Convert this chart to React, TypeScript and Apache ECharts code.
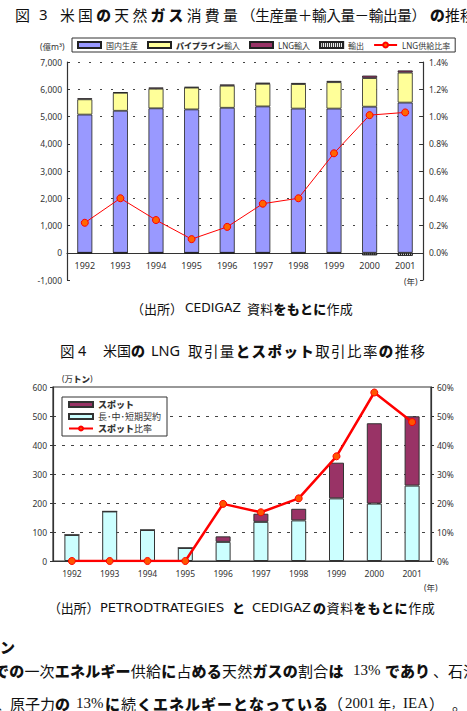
import React, { useEffect, useRef } from 'react';
import * as echarts from 'echarts';

// ---------- data ----------
const years = ['1992', '1993', '1994', '1995', '1996', '1997', '1998', '1999', '2000', '2001'];
// Fig.3 (億m3)
const domesticProd = [5070, 5210, 5300, 5260, 5320, 5370, 5290, 5290, 5360, 5510];
const pipelineImport = [560, 660, 720, 800, 810, 830, 900, 970, 1050, 1100];
const lngImport = [40, 20, 45, 25, 45, 40, 40, 45, 90, 80];
const exportVol = [-15, -15, -15, -15, -15, -20, -20, -25, -90, -110];
const lngShare = [0.22, 0.40, 0.24, 0.10, 0.19, 0.36, 0.40, 0.73, 1.01, 1.03]; // %
// Fig.4 (万トン)
const contractVol = [90, 171, 107, 45, 66, 135, 140, 216, 198, 260];
const spotVol = [0, 0, 0, 0, 19, 28, 40, 123, 277, 239];
const spotShare = [0, 0, 0, 0, 19.7, 16.8, 21.6, 36.1, 58.1, 47.9]; // %

const CJK = '"Noto Sans CJK JP", sans-serif';
const SANS = '"Noto Sans", "Noto Sans CJK JP", sans-serif';
const DEJA = '"DejaVu Sans", sans-serif';
const SERIF = '"Liberation Serif", serif';
const INK = '#111';
const AX = '#333';

function isKana(ch: string) {
  const c = ch.codePointAt(0) as number;
  return c >= 0x3040 && c <= 0x30ff && c !== 0x30fb;
}

function richStr(s: string) {
  let out = '';
  let buf = '';
  let key = '';
  const flush = () => {
    if (buf) out += `{${key}|${buf}}`;
    buf = '';
  };
  for (const ch of Array.from(s)) {
    const c = ch.codePointAt(0) as number;
    const k = isKana(ch) ? 'k' : c < 0x2000 ? 'l' : 'n';
    if (k !== key) {
      flush();
      key = k;
    }
    buf += ch;
  }
  flush();
  return out;
}

function richStyles(size: number, color = AX) {
  return {
    k: { fontFamily: CJK, fontWeight: 900, fontSize: size, color },
    n: { fontFamily: CJK, fontWeight: 'normal', fontSize: size, color },
    l: { fontFamily: SANS, fontWeight: 'normal', fontSize: size, color },
  };
}

function cjkRow(text: string, x: number, y: number, adv: number, size: number, color = INK) {
  return Array.from(text).map((ch, i) => ({
    type: 'text',
    x: x + i * adv,
    y,
    silent: true,
    style: {
      text: ch,
      fontFamily: CJK,
      fontSize: size,
      fontWeight: isKana(ch) ? 900 : 'normal',
      fill: color,
      verticalAlign: 'middle',
      textAlign: 'left',
    },
  }));
}

function latin(text: string, x: number, y: number, size: number, family: string, color = INK) {
  return {
    type: 'text',
    x,
    y,
    silent: true,
    style: { text, fontFamily: family, fontSize: size, fill: color, verticalAlign: 'middle', textAlign: 'left' },
  };
}

function richText(text: string, x: number, y: number, size: number, align = 'left') {
  return {
    type: 'text',
    x,
    y,
    silent: true,
    style: { text: richStr(text), rich: richStyles(size), fill: AX, verticalAlign: 'middle', textAlign: align },
  };
}

export default function App() {
  const ref = useRef<HTMLDivElement>(null);

  useEffect(() => {
    if (!ref.current) return;
    const chart = echarts.init(ref.current, undefined, { renderer: 'svg' });

    const barBorder = { borderColor: '#222', borderWidth: 0.8 };
    const axisLabel = { fontSize: 9, color: AX, fontFamily: SANS };

    const graphics: any[] = [
      // Titles
      ...cjkRow('図', 15, 14, 15, 15),
      latin('3', 39, 14, 15, SANS),
      ...cjkRow('米国の天然ガス消費量', 60, 14, 18.1, 14.8),
      ...cjkRow('（生産量＋輸入量－輸出量）', 241, 14, 14.2, 14.6),
      ...cjkRow('の推移', 430, 14, 15, 14.8),
      ...cjkRow('図', 60, 350, 15, 14.5),
      latin('4', 78, 350, 14.5, SANS),
      ...cjkRow('米国の', 103, 350, 14, 14),
      latin('LNG', 151, 350, 14.5, SANS),
      ...cjkRow('取引量とスポット取引比率の推移', 188, 350, 15.9, 14.5),
      // Sources
      ...cjkRow('（出所）', 131, 308, 13, 13),
      latin('CEDIGAZ', 185, 308, 12.3, DEJA),
      ...cjkRow('資料をもとに作成', 247, 308, 13.25, 13),
      ...cjkRow('（出所）', 48, 607, 12.8, 13),
      latin('PETRODTRATEGIES', 100, 607, 13, DEJA),
      ...cjkRow('と', 232, 607, 13, 13),
      latin('CEDIGAZ', 252, 607, 13, DEJA),
      ...cjkRow('の資料をもとに作成', 313, 607, 13.6, 13),
      // Axis names
      richText('(億m³)', 40, 46, 8.5),
      richText('(年)', 404, 281, 8.5),
      richText('(万トン)', 62, 378, 8.5),
      richText('(年)', 424, 587, 8.5),
      // Body text
      ...cjkRow('ン', 0, 646, 15, 15),
      ...cjkRow('での一次エネルギー供給に占める天然ガスの割合は', -6, 670, 15.2, 15),
      latin('13%', 353, 670, 15, SERIF),
      ...cjkRow('であり', 385, 670, 15, 15),
      ...cjkRow('、石油', 433, 670, 15, 15),
      ...cjkRow('、', -3, 703, 13, 13),
      ...cjkRow('原子力の', 10, 703, 15, 15),
      latin('13%', 76, 703, 15, SERIF),
      ...cjkRow('に続くエネルギーとなっている', 105, 703, 16, 15),
      ...cjkRow('（', 328, 703, 15, 15),
      latin('2001', 345, 703, 15, SERIF),
      ...cjkRow('年', 378, 703, 13, 13),
      ...cjkRow('，', 391, 703, 11, 11),
      latin('IEA', 403, 703, 15, SERIF),
      ...cjkRow('）', 429, 703, 15, 15),
      ...cjkRow('。', 452, 703, 15, 15),
    ];

    const option: any = {
      animation: false,
      backgroundColor: '#fff',
      textStyle: { fontFamily: CJK },
      grid: [
        { left: 67, top: 62, width: 356, height: 218 },
        { left: 53, top: 387, width: 378, height: 174, show: true, borderColor: AX, borderWidth: 1.2, backgroundColor: 'transparent' },
      ],
      legend: [
        {
          left: 72,
          top: 38,
          orient: 'horizontal',
          data: [
            { name: '国内生産', icon: 'rect' },
            { name: 'パイプライン輸入', icon: 'rect' },
            { name: 'LNG輸入', icon: 'rect' },
            { name: '輸出', icon: 'rect' },
            { name: 'LNG供給比率' },
          ],
          itemWidth: 23,
          itemHeight: 6,
          itemGap: 9,
          padding: [3, 5, 3, 5],
          borderColor: AX,
          borderWidth: 1,
          backgroundColor: '#fff',
          formatter: (n: string) => richStr(n),
          textStyle: { fontSize: 8, color: AX, rich: richStyles(8) },
        },
        {
          left: 62,
          top: 397,
          orient: 'vertical',
          data: [
            { name: 'スポット', icon: 'rect' },
            { name: '長･中･短期契約', icon: 'rect' },
            { name: 'スポット比率' },
          ],
          itemWidth: 24,
          itemHeight: 5,
          itemGap: 3,
          padding: [3, 6, 3, 6],
          borderColor: AX,
          borderWidth: 1,
          backgroundColor: '#fff',
          formatter: (n: string) => richStr(n),
          textStyle: { fontSize: 9, color: AX, rich: richStyles(9) },
        },
      ],
      xAxis: [
        {
          type: 'category',
          gridIndex: 0,
          data: years,
          axisLine: { onZero: true, lineStyle: { color: AX, width: 1.2 } },
          axisTick: { inside: true, length: 3, lineStyle: { color: AX } },
          axisLabel: { ...axisLabel, margin: -19 },
        },
        {
          type: 'category',
          gridIndex: 1,
          data: years,
          axisLine: { lineStyle: { color: AX, width: 1.2 } },
          axisTick: { inside: true, length: 3, lineStyle: { color: AX } },
          axisLabel: { ...axisLabel, fontSize: 8.5, margin: 8 },
        },
      ],
      yAxis: [
        {
          type: 'value',
          gridIndex: 0,
          min: -1000,
          max: 7000,
          interval: 1000,
          axisLine: { show: true, lineStyle: { color: AX, width: 1.2 } },
          axisTick: { show: true, inside: true, length: 3, lineStyle: { color: AX } },
          axisLabel: { ...axisLabel, fontSize: 8.5, margin: 5, formatter: (v: number) => v.toLocaleString('en-US') },
          splitLine: {
            show: true,
            lineStyle: {
              type: [2, 9],
              width: 1,
              color: ['rgba(0,0,0,0)', 'rgba(0,0,0,0)', '#444', '#444', '#444', '#444', '#444', '#444', '#444'],
            },
          },
        },
        {
          type: 'value',
          gridIndex: 0,
          position: 'right',
          min: -0.2,
          max: 1.4,
          interval: 0.2,
          axisLine: { show: true, lineStyle: { color: AX, width: 1.2 } },
          axisTick: { show: true, inside: true, length: 3, lineStyle: { color: AX } },
          axisLabel: {
            ...axisLabel,
            fontSize: 8.5,
            margin: 6,
            formatter: (v: number) => (v < -0.01 ? '' : v.toFixed(1) + '%'),
          },
          splitLine: { show: false },
        },
        {
          type: 'value',
          gridIndex: 1,
          min: 0,
          max: 600,
          interval: 100,
          axisLine: { show: true, lineStyle: { color: AX, width: 1.2 } },
          axisTick: { show: true, length: 3, lineStyle: { color: AX } },
          axisLabel: { ...axisLabel, fontSize: 8.5, margin: 6 },
          splitLine: {
            show: true,
            lineStyle: {
              type: [3, 6],
              width: 1,
              color: ['rgba(0,0,0,0)', '#444', '#444', '#444', '#444', '#444', 'rgba(0,0,0,0)'],
            },
          },
        },
        {
          type: 'value',
          gridIndex: 1,
          position: 'right',
          min: 0,
          max: 60,
          interval: 10,
          axisLine: { show: true, lineStyle: { color: AX, width: 1.2 } },
          axisTick: { show: true, length: 3, lineStyle: { color: AX } },
          axisLabel: { ...axisLabel, fontSize: 8.5, margin: 6, formatter: (v: number) => v + '%' },
          splitLine: { show: false },
        },
      ],
      series: [
        {
          name: '国内生産',
          type: 'bar',
          stack: 'gas',
          xAxisIndex: 0,
          yAxisIndex: 0,
          barWidth: 15,
          data: domesticProd,
          itemStyle: { color: '#9999FF', ...barBorder },
        },
        {
          name: 'パイプライン輸入',
          type: 'bar',
          stack: 'gas',
          xAxisIndex: 0,
          yAxisIndex: 0,
          barWidth: 15,
          data: pipelineImport,
          itemStyle: { color: '#FFFF99', ...barBorder },
        },
        {
          name: 'LNG輸入',
          type: 'bar',
          stack: 'gas',
          xAxisIndex: 0,
          yAxisIndex: 0,
          barWidth: 15,
          data: lngImport,
          itemStyle: { color: '#993366', ...barBorder },
        },
        {
          name: '輸出',
          type: 'bar',
          stack: 'gas',
          xAxisIndex: 0,
          yAxisIndex: 0,
          barWidth: 15,
          data: exportVol,
          itemStyle: {
            color: '#ffffff',
            ...barBorder,
            decal: { symbol: 'rect', symbolSize: 1, dashArrayX: [1, 1], dashArrayY: [2, 0], color: '#222' },
          },
        },
        {
          name: 'LNG供給比率',
          type: 'line',
          xAxisIndex: 0,
          yAxisIndex: 1,
          data: lngShare,
          symbol: 'circle',
          symbolSize: 7,
          lineStyle: { color: '#FF0000', width: 1 },
          itemStyle: { color: '#FF6600', borderColor: '#FF0000', borderWidth: 1 },
          z: 5,
        },
        {
          name: '長･中･短期契約',
          type: 'bar',
          stack: 'lng',
          xAxisIndex: 1,
          yAxisIndex: 2,
          barWidth: 15,
          data: contractVol,
          itemStyle: { color: '#CCFFFF', borderColor: '#333', borderWidth: 1 },
        },
        {
          name: 'スポット',
          type: 'bar',
          stack: 'lng',
          xAxisIndex: 1,
          yAxisIndex: 2,
          barWidth: 15,
          data: spotVol,
          itemStyle: { color: '#993366', borderColor: '#333', borderWidth: 1 },
        },
        {
          name: 'スポット比率',
          type: 'line',
          xAxisIndex: 1,
          yAxisIndex: 3,
          data: spotShare,
          symbol: 'circle',
          symbolSize: 7,
          lineStyle: { color: '#FF0000', width: 2.5 },
          itemStyle: { color: '#FF5500', borderColor: '#FF0000', borderWidth: 1 },
          z: 5,
        },
      ],
      graphic: { elements: graphics },
    };

    chart.setOption(option);
    return () => chart.dispose();
  }, []);

  return <div ref={ref} style={{ position: 'absolute', left: 0, top: 0, width: 467, height: 711 }} />;
}
